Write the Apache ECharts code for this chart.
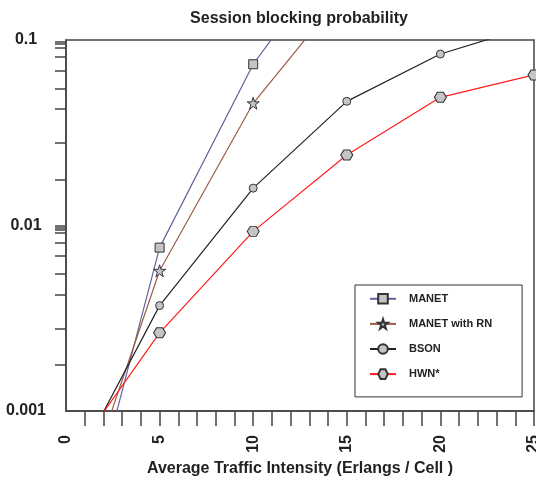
<!DOCTYPE html>
<html>
<head>
<meta charset="utf-8">
<script src="https://cdn.jsdelivr.net/npm/echarts@6/dist/echarts.min.js"></script>
<style>
  html, body { margin: 0; padding: 0; background: #fff; }
  #chart { width: 536px; height: 481px; }
</style>
</head>
<body>
<div id="chart"></div>
<script>
'use strict'
// values (x = traffic in Erlangs, y = blocking probability)
const manet     = [[0, 0.000089], [5, 0.0076], [10, 0.074], [15, 0.36]];
const manetRN   = [[0, 0.00019], [5, 0.0057], [10, 0.0456], [15, 0.19]];
const bson      = [[0, 0.00041], [5, 0.0037], [10, 0.0159], [15, 0.0467], [20, 0.084], [25, 0.12]];
const hwn       = [[0, 0.00051], [5, 0.00264], [10, 0.0093], [15, 0.024], [20, 0.0491], [25, 0.0648]];

const seriesNames = ['MANET', 'MANET with RN', 'BSON', 'HWN*'];
const xTicks = [1, 2, 3, 4, 5, 6, 7, 8, 9, 10, 11, 12, 13, 14, 15, 16, 17, 18, 19, 20, 21, 22, 23, 24, 25];
// the original tool's minor ticks (not at the usual 2..9)
const yTicks = [0.00177, 0.00279, 0.00424, 0.00548, 0.00685, 0.0081, 0.0091, 0.0095, 0.00975, 0.01,
                0.0177, 0.0279, 0.0424, 0.0548, 0.0685, 0.081, 0.091, 0.095, 0.0975, 0.1];

const fontBold = { fontFamily: '"Liberation Sans", Arial, sans-serif', fontWeight: 'bold', color: '#222' };
const hexagon = 'path://M-1,0 L-0.5,-0.87 L0.5,-0.87 L1,0 L0.5,0.87 L-0.5,0.87 Z';
const star = 'path://M0,-1 L0.2245,-0.309 L0.951,-0.309 L0.363,0.118 L0.588,0.809 L0,0.382 L-0.588,0.809 L-0.363,0.118 L-0.951,-0.309 L-0.2245,-0.309 Z';
const markerStyle = { color: '#c4c4c4', borderColor: '#333', borderWidth: 1 };

function line(name, data, color, symbol, size) {
  return {
    name: name,
    type: 'line',
    data: data,
    symbol: symbol,
    symbolSize: size,
    clip: true,
    lineStyle: { color: color, width: 1.2 },
    itemStyle: Object.assign({}, markerStyle),
    emphasis: { disabled: true },
    z: 3
  };
}

let chart = echarts.init(document.getElementById('chart'));
chart.setOption({
  animation: false,
  title: {
    text: 'Session blocking probability',
    left: 294, top: 6, textAlign: 'center',
    textStyle: Object.assign({ fontSize: 16 }, fontBold)
  },
  grid: {
    left: 66, right: 2, top: 40, bottom: 70,
    outerBoundsMode: 'none',
    containLabel: false,
    show: true, borderColor: '#444', borderWidth: 1.5, backgroundColor: 'transparent'
  },
  legend: {
    orient: 'vertical',
    left: 355, top: 285,
    padding: [8, 30, 17, 14],
    itemWidth: 26, itemHeight: 12, itemGap: 13.5,
    borderColor: '#333', borderWidth: 1,
    textStyle: Object.assign({ fontSize: 11, padding: [0, 0, 0, 8] }, fontBold),
    data: seriesNames
  },
  xAxis: {
    type: 'value', min: 0, max: 25, interval: 5,
    name: 'Average Traffic Intensity (Erlangs / Cell )',
    nameLocation: 'middle', nameGap: 50,
    nameTextStyle: Object.assign({ fontSize: 16 }, fontBold),
    axisLine: { show: true, lineStyle: { color: '#444', width: 1.5 } },
    axisTick: { show: true, length: 15, customValues: xTicks, lineStyle: { color: '#444', width: 1.5 } },
    axisLabel: Object.assign({ rotate: 90, margin: 24, fontSize: 16 }, fontBold),
    splitLine: { show: false }
  },
  yAxis: {
    type: 'log', logBase: 10, min: 0.001, max: 0.1,
    axisLine: { show: true, lineStyle: { color: '#444', width: 1.5 } },
    axisTick: { show: true, length: 11, customValues: yTicks, lineStyle: { color: '#444', width: 1.5 } },
    axisLabel: Object.assign({ fontSize: 16, align: 'center', margin: 40, formatter: (v) => String(v) }, fontBold),
    splitLine: { show: false },
    minorTick: { show: false }
  },
  series: [
    line('MANET', manet, '#62629e', 'rect', 9),
    line('MANET with RN', manetRN, '#9c5c42', star, 12),
    line('BSON', bson, '#222', 'circle', 8),
    line('HWN*', hwn, '#ff1c1c', hexagon, [12, 10])
  ]
});
</script>
</body>
</html>
